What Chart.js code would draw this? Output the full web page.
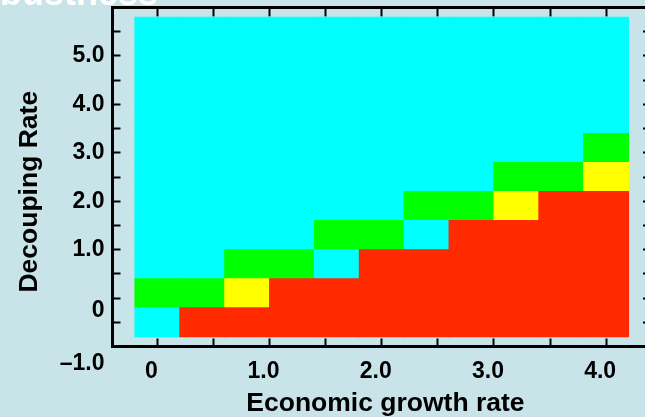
<!DOCTYPE html>
<html>
<head>
<meta charset="utf-8">
<script src="https://cdn.jsdelivr.net/npm/chart.js@4/dist/chart.umd.min.js"></script>
<style>
  html, body { margin: 0; padding: 0; }
  body { width: 645px; height: 417px; overflow: hidden; position: relative; background: #c8e4e8; }
  #plot { position: absolute; left: 0; top: 0; }
  .fig-title {
    position: absolute; left: -48px; top: -25px;
    font: bold 36px/36px "Liberation Sans", Arial, sans-serif;
    color: #ffffff; white-space: nowrap;
  }
</style>
</head>
<body>
<canvas id="plot" width="680" height="417"></canvas>
<div class="fig-title">Robustness</div>
<script>
// Economic growth rate of each column and decoupling rate of each row
const growthRates = [0, 0.4, 0.8, 1.2, 1.6, 2.0, 2.4, 2.8, 3.2, 3.6, 4.0];
const decouplingRates = [-0.5, 0.1, 0.7, 1.3, 1.9, 2.5, 3.1, 3.7, 4.3, 4.9, 5.5];

// Cell state per row (bottom row first), one entry per growth rate
const stateRows = [
  [0, 3, 3, 3, 3, 3, 3, 3, 3, 3, 3],
  [1, 1, 2, 3, 3, 3, 3, 3, 3, 3, 3],
  [0, 0, 1, 1, 0, 3, 3, 3, 3, 3, 3],
  [0, 0, 0, 0, 1, 1, 0, 3, 3, 3, 3],
  [0, 0, 0, 0, 0, 0, 1, 1, 2, 3, 3],
  [0, 0, 0, 0, 0, 0, 0, 0, 1, 1, 2],
  [0, 0, 0, 0, 0, 0, 0, 0, 0, 0, 1],
  [0, 0, 0, 0, 0, 0, 0, 0, 0, 0, 0],
  [0, 0, 0, 0, 0, 0, 0, 0, 0, 0, 0],
  [0, 0, 0, 0, 0, 0, 0, 0, 0, 0, 0],
  [0, 0, 0, 0, 0, 0, 0, 0, 0, 0, 0]
];
const stateColors = ['#00ffff', '#00ff00', '#ffff00', '#ff2a00'];

// Labelled tick values
const xTickLabels = [0, 1, 2, 3, 4];
const yTickLabels = [-1, 0, 1, 2, 3, 4, 5];

const FONT = '"Liberation Sans", Arial, sans-serif';
const fmt = v => v === 0 ? '0' : (v < 0 ? '\u2013' : '') + Math.abs(v).toFixed(1);

// each row becomes one dataset of floating bars spanning the row height
const halfRow = (decouplingRates[1] - decouplingRates[0]) / 2;
const datasets = stateRows.map((row, r) => ({
  data: growthRates.map(g => ({ x: g, y: [decouplingRates[r] - halfRow, decouplingRates[r] + halfRow] })),
  backgroundColor: row.map(s => stateColors[s]),
  borderWidth: 0,
  barPercentage: 1,
  categoryPercentage: 1,
  grouped: false,
  inflateAmount: 0.5
}));

// frame lines with short inward tick marks on every side
const frame = (tickLength) => ({
  border: { display: true, color: '#000', width: 3 },
  grid: { display: true, offset: false, drawOnChartArea: false, drawTicks: true, tickLength, tickColor: '#000', tickWidth: 2 }
});
const noPadding = s => { s.paddingTop = 0; s.paddingBottom = 0; s.paddingLeft = 0; s.paddingRight = 0; };

new Chart(document.getElementById('plot'), {
  type: 'bar',
  data: { datasets },
  options: {
    responsive: false,
    animation: false,
    events: [],
    layout: { padding: 0 },
    plugins: { legend: { display: false }, tooltip: { enabled: false }, title: { display: false } },
    scales: {
      x: {
        type: 'linear', position: 'bottom', min: -0.4, max: 4.4, offset: false,
        ...frame(-8),
        ticks: {
          stepSize: 0.5, includeBounds: false, autoSkip: false, maxRotation: 0,
          padding: 19, labelOffset: -6, color: '#000',
          font: { family: FONT, size: 23, weight: 'bold' },
          callback: v => xTickLabels.includes(v) ? fmt(v) : ''
        },
        title: {
          display: true, text: ' Economic growth rate', color: '#000',
          font: { family: FONT, size: 26.5, weight: 'bold', lineHeight: 1 },
          padding: { top: 0, bottom: 0 }
        },
        afterFit: s => { s.height = 70.5; noPadding(s); }
      },
      x2: {
        type: 'linear', position: 'top', min: -0.4, max: 4.4, offset: false,
        ...frame(-9),
        ticks: { display: false, stepSize: 0.5, includeBounds: false, autoSkip: false },
        afterFit: s => { s.height = 7.5; noPadding(s); }
      },
      y: {
        type: 'linear', position: 'left', min: -1, max: 6,
        ...frame(-8),
        ticks: {
          stepSize: 0.5, autoSkip: false, padding: 16, color: '#000',
          font: c => ({
            family: FONT, size: 23, weight: 'bold',
            lineHeight: c.tick && c.tick.value === -1 ? '34px' : (c.tick && c.tick.value === 0 ? '26px' : 1.2)
          }),
          // the two lowest labels sit a little below their ticks
          callback: v => !yTickLabels.includes(v) ? '' : (v <= 0 ? ['', fmt(v)] : fmt(v))
        },
        title: {
          display: true, text: 'Decouping Rate    ', color: '#000',
          font: { family: FONT, size: 26.5, weight: 'bold', lineHeight: 1 },
          padding: { top: 16, bottom: 0 }
        },
        afterFit: s => { s.width = 112.5; noPadding(s); }
      },
      y2: {
        type: 'linear', position: 'right', min: -1, max: 6,
        ...frame(-8),
        ticks: { display: false, stepSize: 0.5, autoSkip: false },
        afterFit: s => { s.width = 29; noPadding(s); }
      }
    }
  }
});
</script>
</body>
</html>
